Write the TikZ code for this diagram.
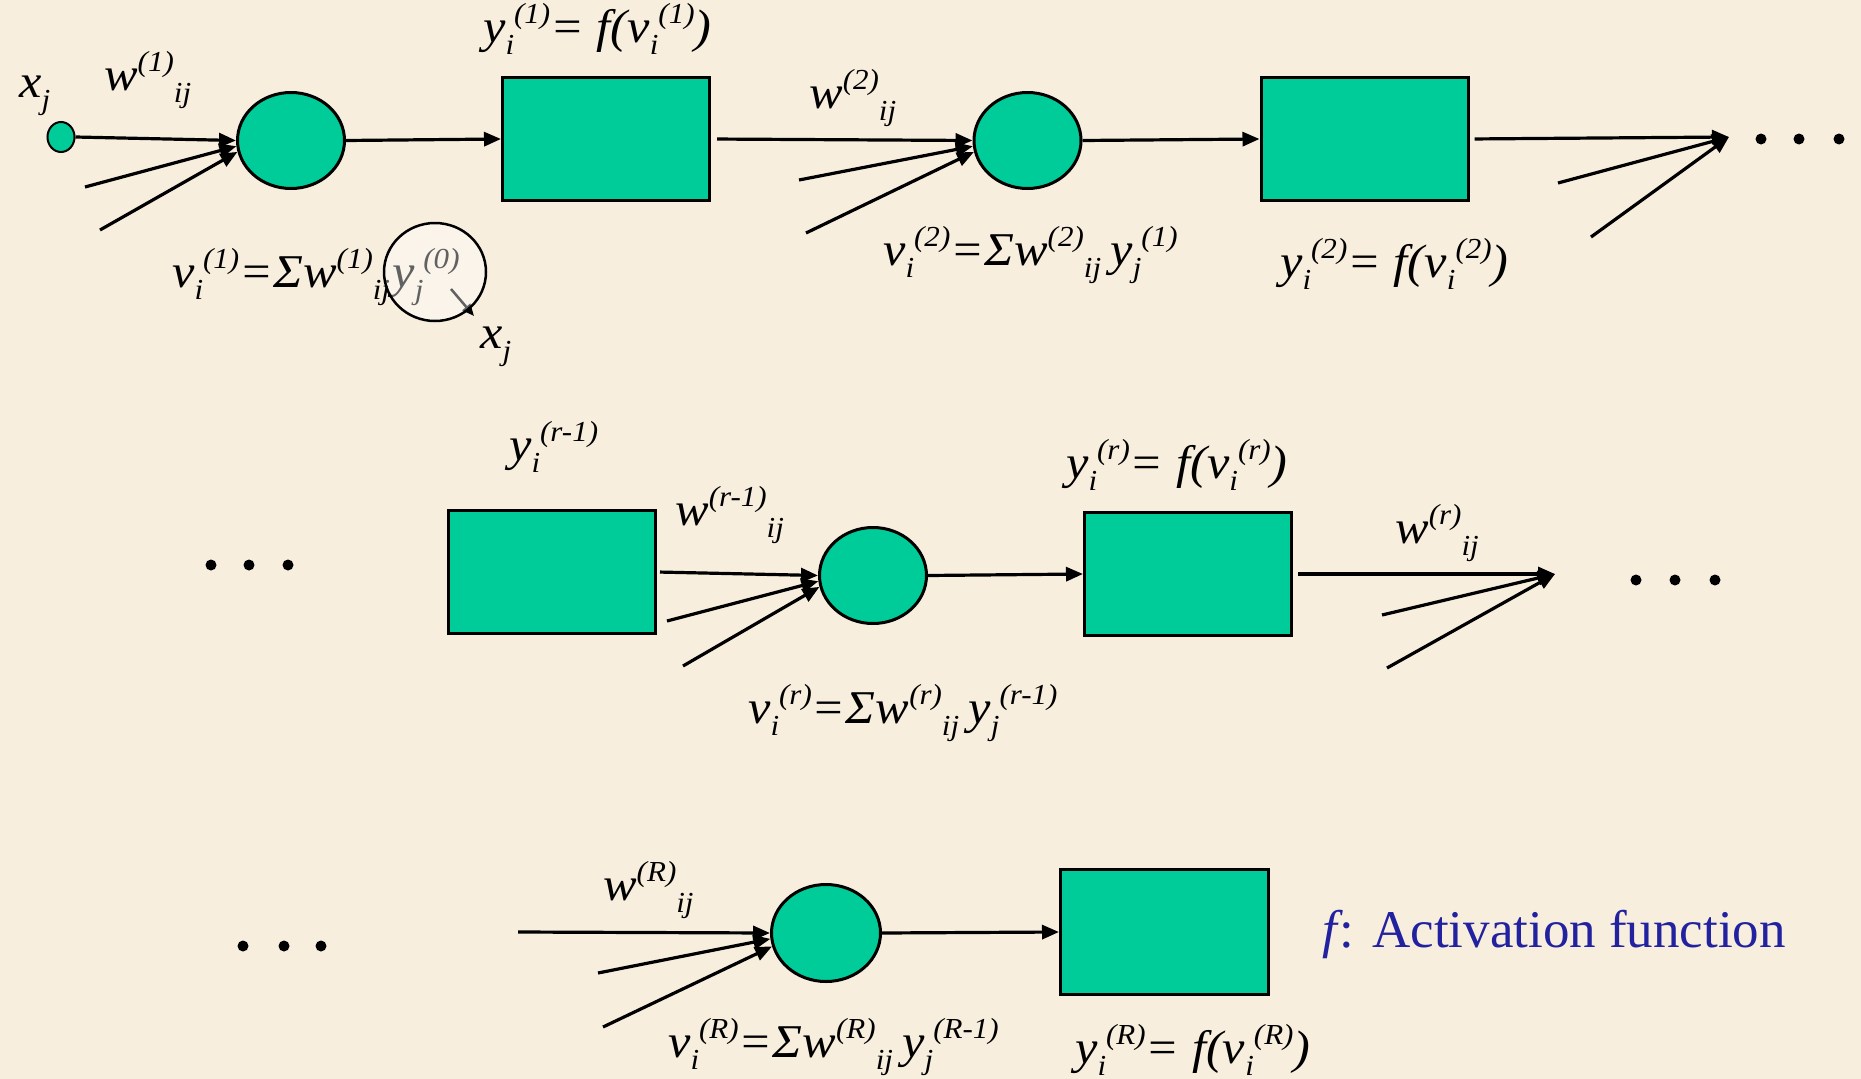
\documentclass[tikz,border=0pt]{standalone}
\usepackage{fontspec}
\setmainfont{Liberation Serif}
\newfontfamily\lblfont{Liberation Serif}[FakeStretch=1.07]
\usetikzlibrary{shapes.geometric,arrows.meta}
\definecolor{bg}{RGB}{248,238,222}
\definecolor{tealf}{RGB}{0,204,153}
\definecolor{blu}{RGB}{34,34,160}
\newcommand\mainsz{\fontsize{47}{50}\selectfont}
\newcommand\scrsz{\fontsize{29}{32}\selectfont}
\newcommand\up[1]{\raisebox{0.4em}{\scrsz #1}}
\newcommand\dn[1]{\raisebox{-0.26em}{\scrsz #1}}
\tikzset{
 neuron/.style={ellipse, draw=black, line width=3pt, fill=tealf, minimum width=107pt, minimum height=96pt, inner sep=0pt},
 actbox/.style={rectangle, draw=black, line width=3pt, fill=tealf, minimum width=207pt, minimum height=123pt, inner sep=0pt},
 arr/.style={line width=3.2pt, -{Triangle[length=17pt,width=14pt]}},
 lbl/.style={anchor=base west, inner sep=0pt, font=\lblfont\mainsz\itshape},
 bigdot/.style={circle, fill=black, minimum size=11pt, inner sep=0pt},
}
\begin{document}
\begin{tikzpicture}[x=1pt,y=-1pt]
\fill[bg] (0,0) rectangle (1861,1079);
\useasboundingbox (0,0) rectangle (1861,1079);
% ---------- row 1
\node[ellipse, draw=black, line width=2pt, fill=tealf, minimum width=27pt, minimum height=30pt, inner sep=0pt] (xin) at (61,137) {};
\node[neuron] (e1) at (291,140.5) {};
\node[actbox] (r1) at (606,139) {};
\node[neuron] (e2) at (1027.5,140.5) {};
\node[actbox] (r2) at (1364.5,139) {};
\coordinate (c1) at (1729,137);
\node[bigdot] (d1a) at (1761,139) {};
\node[bigdot] (d1b) at (1799,139) {};
\node[bigdot] (d1c) at (1839,139) {};
\coordinate (i1a) at (85,187);
\coordinate (i1b) at (100,230);
\coordinate (i2a) at (799,180);
\coordinate (i2b) at (806,233);
\coordinate (i3a) at (1558,183);
\coordinate (i3b) at (1591,237);
\draw[arr] (xin.east) -- (e1.west);
\draw[arr] (i1a) -- (e1.186);
\draw[arr] (i1b) -- (e1.192);
\draw[arr] (e1.east) -- (r1.west);
\draw[arr, shorten <=6pt] (r1.east) -- (e2.west);
\draw[arr] (i2a) -- (e2.186);
\draw[arr] (i2b) -- (e2.192);
\draw[arr] (e2.east) -- (r2.west);
\draw[arr, shorten <=5pt] (r2.east) -- (c1);
\draw[arr] (i3a) -- (c1);
\draw[arr] (i3b) -- (c1);
\node[lbl] (lx1) at (19,97) {x\dn{j}};
\node[lbl] (lw1) at (104,90) {w\up{(1)}\dn{ij}};
\node[lbl] (ly1) at (483,42) {y\dn{i}\up{(1)}= f(v\dn{i}\up{(1)})};
\node[lbl] (lv1) at (172,287) {v\dn{i}\up{(1)}=Σw\up{(1)}\dn{ij}\hspace{0.05em}y\dn{j}\up{(0)}};
\node[lbl] (lx2) at (480,348) {x\dn{j}};
\node[lbl] (lw2) at (809,108) {w\up{(2)}\dn{ij}};
\node[lbl] (lv2) at (883,265) {v\dn{i}\up{(2)}=Σw\up{(2)}\dn{ij}\hspace{0.2em}y\dn{j}\up{(1)}};
\node[lbl] (ly2) at (1280,277) {y\dn{i}\up{(2)}= f(v\dn{i}\up{(2)})};
% magnifier circle
\coordinate (m1) at (451,289);
\coordinate (m2) at (474,316);
\draw[line width=2.5pt, -{Triangle[length=12pt,width=10pt]}] (m1) -- (m2);
\node[ellipse, draw=black, line width=2.5pt, fill=white, fill opacity=0.38, draw opacity=1, minimum width=102pt, minimum height=98pt, inner sep=0pt] (mag) at (435,272) {};
% ---------- row 2
\node[bigdot] (d2a) at (211,565) {};
\node[bigdot] (d2b) at (249,565) {};
\node[bigdot] (d2c) at (288,565) {};
\node[actbox] (ra) at (552,572) {};
\node[neuron] (er) at (873,575.5) {};
\node[actbox] (rb) at (1188,574) {};
\coordinate (c2) at (1555,574);
\node[bigdot] (d2d) at (1636,580) {};
\node[bigdot] (d2e) at (1675,580) {};
\node[bigdot] (d2f) at (1715,580) {};
\coordinate (i4a) at (667,621);
\coordinate (i4b) at (683,666);
\coordinate (i5a) at (1382,615);
\coordinate (i5b) at (1387,668);
\draw[arr, shorten <=3pt] (ra.east) -- (er.west);
\draw[arr] (i4a) -- (er.186);
\draw[arr] (i4b) -- (er.192);
\draw[arr] (er.east) -- (rb.west);
\draw[arr, shorten <=5pt] (rb.east) -- (c2);
\draw[arr] (i5a) -- (c2);
\draw[arr] (i5b) -- (c2);
\node[lbl] (lyr1) at (509,460) {y\dn{i}\up{(r-1)}};
\node[lbl] (lwr1) at (675,525) {w\up{(r-1)}\dn{ij}};
\node[lbl] (lvr) at (748,723) {v\dn{i}\up{(r)}=Σw\up{(r)}\dn{ij}\hspace{0.2em}y\dn{j}\up{(r-1)}};
\node[lbl] (lyr) at (1066,478) {y\dn{i}\up{(r)}= f(v\dn{i}\up{(r)})};
\node[lbl] (lwr) at (1395,543) {w\up{(r)}\dn{ij}};
% ---------- row 3
\node[bigdot] (d3a) at (243,946) {};
\node[bigdot] (d3b) at (284,946) {};
\node[bigdot] (d3c) at (321,946) {};
\coordinate (i6) at (518,932);
\node[neuron, minimum width=109pt, minimum height=97pt] (eo) at (826,933) {};
\node[actbox, minimum width=208pt, minimum height=125pt] (ro) at (1164.5,932) {};
\coordinate (i7a) at (598,973);
\coordinate (i7b) at (603,1027);
\draw[arr] (i6) -- (eo.west);
\draw[arr] (i7a) -- (eo.186);
\draw[arr] (i7b) -- (eo.194);
\draw[arr] (eo.east) -- (ro.west);
\node[lbl] (lwo) at (603,900) {w\up{(R)}\dn{ij}};
\node[lbl] (lvo) at (668,1057) {v\dn{i}\up{(R)}=Σw\up{(R)}\dn{ij}\hspace{0.2em}y\dn{j}\up{(R-1)}};
\node[lbl] (lyo) at (1075,1063) {y\dn{i}\up{(R)}= f(v\dn{i}\up{(R)})};
\node[anchor=base west, inner sep=0pt, font=\fontsize{53}{60}\selectfont, text=blu] (act) at (1322,947) {\textit{f}\kern-0.06em: Activation function};
\end{tikzpicture}
\end{document}
